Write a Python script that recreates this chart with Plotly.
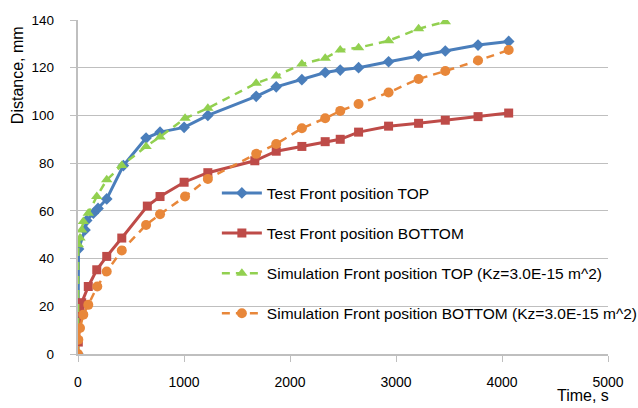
import plotly.graph_objects as go

# ---- data ----
t_test_top = [0, 5, 66, 82, 145, 189, 271, 428, 642, 774, 1001, 1225, 1681, 1870,
              2112, 2332, 2474, 2647, 2930, 3213, 3465, 3774, 4063]
d_test_top = [0, 44, 52, 56, 59, 61, 65, 79, 90.5, 93, 95, 100, 108, 112,
              115, 118, 119, 120, 122.5, 125, 127, 129.5, 131]

t_test_bot = [3, 20, 35, 97, 177, 271, 413, 654, 774, 1001, 1225, 1668, 1870,
              2112, 2332, 2474, 2647, 2930, 3213, 3465, 3774, 4063]
d_test_bot = [5, 18, 21.5, 28.3, 35.3, 40.9, 48.6, 62, 66, 72, 76, 81, 85,
              87, 89, 90, 93, 95.5, 96.7, 98, 99.5, 101]

t_sim_top = [0, 3, 19, 35, 50, 97, 177, 271, 413, 642, 774, 1010, 1225, 1681,
             1870, 2112, 2332, 2474, 2647, 2930, 3213, 3465]
d_sim_top = [0, 45.8, 48.6, 52, 55.5, 59, 66, 73, 79, 87, 91, 98.8, 103, 113.5,
             116.5, 121.6, 124, 127.4, 128.4, 131.3, 136.3, 139.3]

t_sim_bot = [0, 3, 19, 50, 97, 182, 271, 413, 642, 774, 1010, 1225, 1681, 1870,
             2112, 2332, 2474, 2647, 2930, 3213, 3465, 3774, 4063]
d_sim_bot = [0, 6, 10.9, 16.5, 20.6, 28.3, 34.6, 43.4, 54.1, 58.6, 66, 73.4, 83.9, 88,
             94.6, 98.8, 101.9, 104.8, 109.6, 115.3, 118.6, 123, 127.4]

names = ["Test Front position TOP",
         "Test Front position BOTTOM",
         "Simulation Front position TOP (Kz=3.0E-15 m^2)",
         "Simulation Front position BOTTOM (Kz=3.0E-15 m^2)"]

x_ticks = [0, 1000, 2000, 3000, 4000, 5000]
y_ticks = [0, 20, 40, 60, 80, 100, 120, 140]

BLUE = "#4A7EBB"
RED = "#BE4B48"
GREEN = "#92D050"
ORANGE = "#E8873A"
GRAY = "#BFBFBF"
FONT = "Liberation Sans, Arial, sans-serif"
PAD = "\u2002\u2002"

fig = go.Figure()
fig.add_trace(go.Scatter(x=t_test_top, y=d_test_top, name=names[0], mode="lines+markers",
                         line=dict(color=BLUE, width=3),
                         marker=dict(symbol="diamond", size=9, color=BLUE),
                         legendgroup="a"))
fig.add_trace(go.Scatter(x=t_test_bot, y=d_test_bot, name=names[1], mode="lines+markers",
                         line=dict(color=RED, width=3),
                         marker=dict(symbol="square", size=9, color=RED),
                         legendgroup="b"))
fig.add_trace(go.Scatter(x=t_sim_top, y=d_sim_top, name=names[2], mode="lines+markers",
                         line=dict(color=GREEN, width=2.5, dash="8px,6px"),
                         marker=dict(symbol="triangle-up", size=10, color=GREEN),
                         legendgroup="c"))
fig.add_trace(go.Scatter(x=t_sim_bot, y=d_sim_bot, name=names[3], mode="lines+markers",
                         line=dict(color=ORANGE, width=2.5, dash="8px,6px"),
                         marker=dict(symbol="circle", size=10, color=ORANGE),
                         legendgroup="d"))

fig.update_layout(
    width=638, height=408,
    margin=dict(l=78, r=30, t=20, b=54, autoexpand=False),
    paper_bgcolor="white", plot_bgcolor="white",
    font=dict(family=FONT, size=14, color="#000000"),
    showlegend=True,
    legend=dict(x=0.262, y=0.532, xanchor="left", yanchor="top",
                bgcolor="rgba(0,0,0,0)", font=dict(size=15.5, family=FONT),
                traceorder="grouped", tracegroupgap=17, itemwidth=40),
    xaxis=dict(range=[0, 5000], tickvals=x_ticks, ticktext=[str(v) for v in x_ticks],
               showgrid=False, zeroline=False, showline=True, linecolor=GRAY,
               linewidth=1.5, ticks="outside", ticklen=6, tickcolor=GRAY,
               ticklabelstandoff=8, tickfont=dict(size=14, family=FONT),
               automargin=False),
    yaxis=dict(range=[0, 140], tickvals=y_ticks, ticktext=[str(v) + PAD for v in y_ticks],
               showgrid=True, gridcolor=GRAY, gridwidth=1.2, zeroline=False,
               showline=True, linecolor=GRAY, linewidth=1.5,
               ticks="outside", ticklen=6, tickcolor=GRAY,
               tickfont=dict(size=13.5, family=FONT), automargin=False),
    annotations=[
        dict(text="Distance, mm", textangle=-90, xref="paper", yref="paper",
             x=-0.115, y=0.835, xanchor="center", yanchor="middle", showarrow=False,
             font=dict(size=16, family=FONT)),
        dict(text="Time, s", xref="paper", yref="paper", x=1.005, y=-0.125,
             xanchor="right", yanchor="middle", showarrow=False,
             font=dict(size=16, family=FONT)),
    ],
)

fig.write_html("out.html")
